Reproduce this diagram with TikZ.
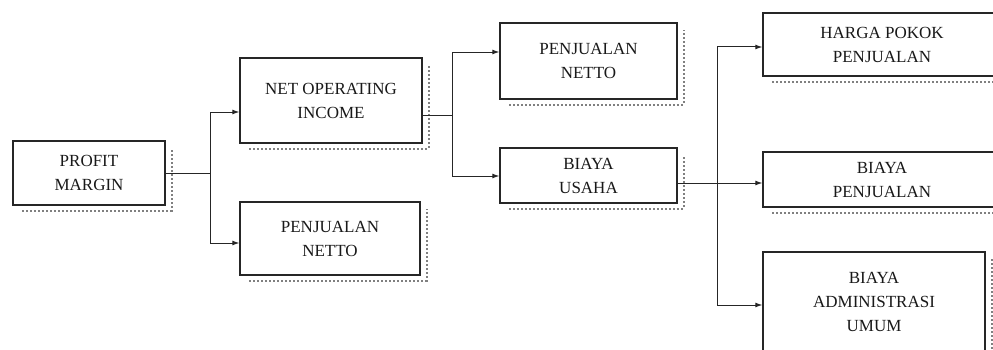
\documentclass[tikz,border=0pt]{standalone}
\usepackage{fontspec}
\setmainfont{Liberation Serif}
\usetikzlibrary{arrows.meta}
\tikzset{
  box/.style={draw=black!85, line width=1.3pt, rectangle, align=center, inner sep=0pt,
    font=\fontsize{17}{24}\selectfont, text=black!90},
  arr/.style={draw=black!85, line width=1pt, -{Latex[length=7pt,width=5pt]}},
  ln/.style={draw=black!85, line width=1pt},
  shade/.style={draw=black!50, line width=2pt, dotted}
}
\newcommand{\shadowof}[1]{%
  \draw[shade] ([xshift=10pt,yshift=-5pt]#1.south west) -- ([xshift=6pt,yshift=-5pt]#1.south east)
    -- ([xshift=6pt,yshift=-8pt]#1.north east);}
\begin{document}
\begin{tikzpicture}[x=1pt,y=1pt]
\useasboundingbox (0,0) rectangle (993,349);
\fill[white] (0,0) rectangle (993,349);

\node[box, minimum width=152pt, minimum height=64pt] (pm) at (89,176) {PROFIT\\MARGIN};
\node[box, minimum width=182pt, minimum height=85pt] (noi) at (331,248.5) {NET OPERATING\\INCOME};
\node[box, minimum width=180pt, minimum height=73pt] (pn1) at (330,110.5) {PENJUALAN\\NETTO};
\node[box, minimum width=177pt, minimum height=76pt] (pn2) at (588.5,288) {PENJUALAN\\NETTO};
\node[box, minimum width=177pt, minimum height=55pt] (bu) at (588.5,173.5) {BIAYA\\USAHA};
\node[box, minimum width=238pt, minimum height=63pt] (hpp) at (882,304.5) {HARGA POKOK\\PENJUALAN};
\node[box, minimum width=238pt, minimum height=55pt] (bp) at (882,169.5) {BIAYA\\PENJUALAN};
\node[box, minimum width=222pt, minimum height=100pt] (bau) at (874,47) {BIAYA\\ADMINISTRASI\\UMUM};

\foreach \n in {pm,noi,pn1,pn2,bu,hpp,bp,bau} {\shadowof{\n}}

% connectors
\draw[ln] (pm.east) -- ++(45,0) coordinate (j1);
\draw[arr] (j1) |- ([yshift=-11.5pt]noi.west);
\draw[arr] (j1) |- ([yshift=-4.5pt]pn1.west);

\draw[ln] ([yshift=-14.5pt]noi.east) -- ++(30,0) coordinate (j2);
\draw[arr] (j2) |- ([yshift=9pt]pn2.west);
\draw[arr] (j2) |- ([yshift=-0.5pt]bu.west);

\draw[ln] ([yshift=-7.5pt]bu.east) -- ++(40,0) coordinate (j3);
\draw[arr] (j3) -- ([yshift=-3.5pt]bp.west);
\draw[arr] (j3) |- ([yshift=-2.5pt]hpp.west);
\draw[arr] (j3) |- ([yshift=-3pt]bau.west);
\end{tikzpicture}
\end{document}
